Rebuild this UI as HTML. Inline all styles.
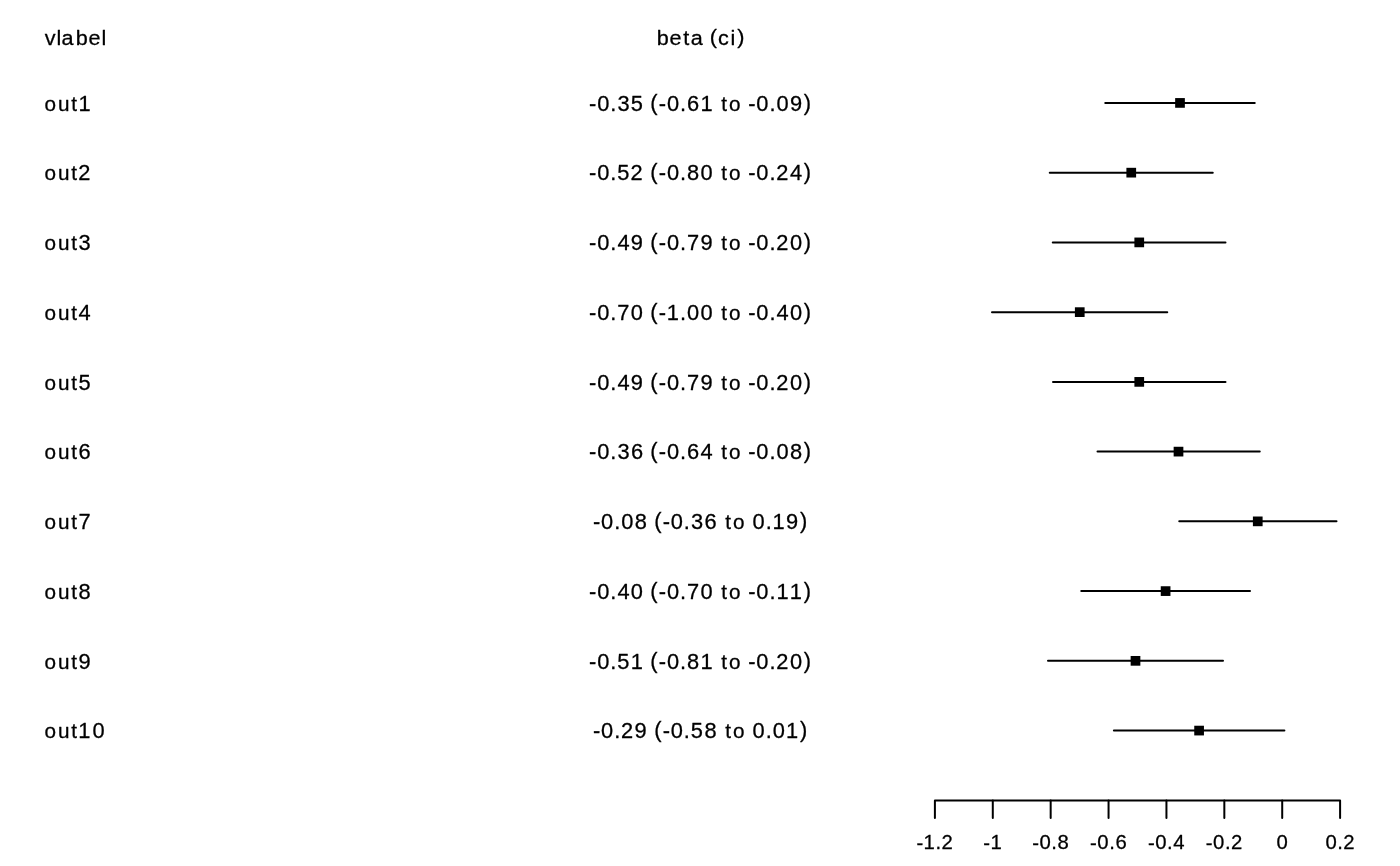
<!DOCTYPE html>
<html lang="en">
<head>
<meta charset="utf-8">
<title>Forest plot</title>
<style>
html,body{margin:0;padding:0;background:#fff;}
body{width:1400px;height:866px;overflow:hidden;}
svg{display:block;will-change:transform;filter:grayscale(1);}
text{font-family:"Liberation Sans",sans-serif;fill:#000;stroke:#000;stroke-width:0.28px;stroke-linejoin:round;}
.m{font-size:21.30px;}
.t{font-size:19.80px;}
.l{font-size:20.20px;}
.ci{stroke:#000;stroke-width:2;stroke-linecap:round;fill:none;}
.ax{stroke:#000;stroke-width:2;stroke-linecap:round;stroke-linejoin:round;fill:none;}
</style>
</head>
<body>
<svg width="1400" height="866" viewBox="0 0 1400 866">
<rect x="0" y="0" width="1400" height="866" fill="#ffffff"/>
<g id="header">
<text class="m" style="font-size:21.1px" transform="scale(1.025,1)" x="43.75 55.16 59.98 73.99 86.40 99.07" y="45">vlabel</text>
<text class="m" style="font-size:21.1px" transform="scale(1.025,1)" x="640.70 653.17 666.54 674.01 686.32 692.54 700.56 712.70 719.25" y="45 45 45 45 45 44 45 45 44">beta (ci)</text>
</g>
<g id="row1">
<text class="m" transform="scale(1.025,1)" x="43.49 56.48 69.60 76.48" y="111"><tspan class="l">out</tspan>1</text>
<text class="m" transform="scale(1.025,1)" x="574.77 582.68 595.48 602.39 615.41 627.99 634.49 642.77 650.68 663.48 670.37 683.39 695.98 703.73 711.33 723.26 729.99 737.90 750.70 757.59 770.65 784.22" y="111 111 111 111 111 111 110 111 111 111 111 111 111 111 111 111 111 111 111 111 111 110">-0.35 (-0.61 <tspan class="l">to</tspan> -0.09)</text>
<line class="ci" x1="1105.25" y1="102.92" x2="1254.75" y2="102.92"/>
<rect x="1175.15" y="98.07" width="9.7" height="9.7" fill="#000"/>
</g>
<g id="row2">
<text class="m" transform="scale(1.025,1)" x="43.49 56.48 69.60 76.32" y="180"><tspan class="l">out</tspan>2</text>
<text class="m" transform="scale(1.025,1)" x="574.77 582.68 595.48 602.29 615.22 627.99 634.49 642.77 650.68 663.48 670.36 683.49 695.98 703.73 711.33 723.26 729.99 737.90 750.70 757.31 770.71 784.22" y="180 180 180 180 180 180 179 180 180 180 180 180 180 180 180 180 180 180 180 180 180 179">-0.52 (-0.80 <tspan class="l">to</tspan> -0.24)</text>
<line class="ci" x1="1049.75" y1="172.66" x2="1212.75" y2="172.66"/>
<rect x="1126.40" y="167.81" width="9.7" height="9.7" fill="#000"/>
</g>
<g id="row3">
<text class="m" transform="scale(1.025,1)" x="43.49 56.48 69.60 76.61" y="250"><tspan class="l">out</tspan>3</text>
<text class="m" transform="scale(1.025,1)" x="574.77 582.68 595.48 602.36 615.43 627.99 634.49 642.77 650.68 663.48 670.32 683.43 695.98 703.73 711.33 723.26 729.99 737.90 750.70 757.31 770.71 784.22" y="250 250 250 250 250 250 249 250 250 250 250 250 250 250 250 250 250 250 250 250 250 249">-0.49 (-0.79 <tspan class="l">to</tspan> -0.20)</text>
<line class="ci" x1="1052.75" y1="242.40" x2="1225.50" y2="242.40"/>
<rect x="1134.40" y="237.55" width="9.7" height="9.7" fill="#000"/>
</g>
<g id="row4">
<text class="m" transform="scale(1.025,1)" x="43.49 56.48 69.60 76.58" y="320"><tspan class="l">out</tspan>4</text>
<text class="m" transform="scale(1.025,1)" x="574.77 582.68 595.48 602.33 615.49 627.99 634.49 642.77 650.57 663.48 670.36 683.49 695.98 703.73 711.33 723.26 729.99 737.90 750.70 757.58 770.71 784.22" y="320 320 320 320 320 320 319 320 320 320 320 320 320 320 320 320 320 320 320 320 320 319">-0.70 (-1.00 <tspan class="l">to</tspan> -0.40)</text>
<line class="ci" x1="992.00" y1="312.14" x2="1167.25" y2="312.14"/>
<rect x="1074.90" y="307.29" width="9.7" height="9.7" fill="#000"/>
</g>
<g id="row5">
<text class="m" transform="scale(1.025,1)" x="43.49 56.48 69.60 76.51" y="390"><tspan class="l">out</tspan>5</text>
<text class="m" transform="scale(1.025,1)" x="574.77 582.68 595.48 602.36 615.43 627.99 634.49 642.77 650.68 663.48 670.32 683.43 695.98 703.73 711.33 723.26 729.99 737.90 750.70 757.31 770.71 784.22" y="390 390 390 390 390 390 389 390 390 390 390 390 390 390 390 390 390 390 390 390 390 389">-0.49 (-0.79 <tspan class="l">to</tspan> -0.20)</text>
<line class="ci" x1="1053.00" y1="381.88" x2="1225.50" y2="381.88"/>
<rect x="1134.40" y="377.03" width="9.7" height="9.7" fill="#000"/>
</g>
<g id="row6">
<text class="m" transform="scale(1.025,1)" x="43.49 56.48 69.60 76.59" y="459"><tspan class="l">out</tspan>6</text>
<text class="m" transform="scale(1.025,1)" x="574.77 582.68 595.48 602.39 615.50 627.99 634.49 642.77 650.68 663.48 670.37 683.49 695.98 703.73 711.33 723.26 729.99 737.90 750.70 757.59 770.71 784.22" y="459 459 459 459 459 459 458 459 459 459 459 459 459 459 459 459 459 459 459 459 459 458">-0.36 (-0.64 <tspan class="l">to</tspan> -0.08)</text>
<line class="ci" x1="1097.50" y1="451.62" x2="1259.75" y2="451.62"/>
<rect x="1173.65" y="446.77" width="9.7" height="9.7" fill="#000"/>
</g>
<g id="row7">
<text class="m" transform="scale(1.025,1)" x="43.49 56.48 69.60 76.55" y="529"><tspan class="l">out</tspan>7</text>
<text class="m" transform="scale(1.025,1)" x="578.50 586.40 599.20 606.09 619.22 631.71 638.21 646.49 654.40 667.20 674.11 687.22 699.71 707.46 715.06 726.98 734.18 746.98 753.76 766.93 780.50" y="529 529 529 529 529 529 528 529 529 529 529 529 529 529 529 529 529 529 529 529 528">-0.08 (-0.36 <tspan class="l">to</tspan> 0.19)</text>
<line class="ci" x1="1179.25" y1="521.36" x2="1336.50" y2="521.36"/>
<rect x="1252.90" y="516.51" width="9.7" height="9.7" fill="#000"/>
</g>
<g id="row8">
<text class="m" transform="scale(1.025,1)" x="43.49 56.48 69.60 76.59" y="599"><tspan class="l">out</tspan>8</text>
<text class="m" transform="scale(1.025,1)" x="574.77 582.68 595.48 602.36 615.49 627.99 634.49 642.77 650.68 663.48 670.32 683.49 695.98 703.73 711.33 723.26 729.99 737.90 750.70 757.48 770.61 784.22" y="599 599 599 599 599 599 598 599 599 599 599 599 599 599 599 599 599 599 599 599 599 598">-0.40 (-0.70 <tspan class="l">to</tspan> -0.11)</text>
<line class="ci" x1="1081.25" y1="591.10" x2="1250.00" y2="591.10"/>
<rect x="1160.75" y="586.25" width="9.7" height="9.7" fill="#000"/>
</g>
<g id="row9">
<text class="m" transform="scale(1.025,1)" x="43.49 56.48 69.60 76.52" y="669"><tspan class="l">out</tspan>9</text>
<text class="m" transform="scale(1.025,1)" x="574.77 582.68 595.48 602.29 615.39 627.99 634.49 642.77 650.68 663.48 670.36 683.39 695.98 703.73 711.33 723.26 729.99 737.90 750.70 757.31 770.71 784.22" y="669 669 669 669 669 669 668 669 669 669 669 669 669 669 669 669 669 669 669 669 669 668">-0.51 (-0.81 <tspan class="l">to</tspan> -0.20)</text>
<line class="ci" x1="1048.00" y1="660.84" x2="1223.00" y2="660.84"/>
<rect x="1130.65" y="655.99" width="9.7" height="9.7" fill="#000"/>
</g>
<g id="row10">
<text class="m" transform="scale(1.025,1)" x="43.49 56.48 69.60 76.35 90.30" y="738"><tspan class="l">out</tspan>10</text>
<text class="m" transform="scale(1.025,1)" x="578.50 586.40 599.20 605.82 619.15 631.71 638.21 646.49 654.40 667.20 674.01 687.22 699.71 707.46 715.06 726.98 734.18 746.98 753.86 766.89 780.50" y="738 738 738 738 738 738 737 738 738 738 738 738 738 738 738 738 738 738 738 738 737">-0.29 (-0.58 <tspan class="l">to</tspan> 0.01)</text>
<line class="ci" x1="1113.90" y1="730.58" x2="1284.40" y2="730.58"/>
<rect x="1194.25" y="725.73" width="9.7" height="9.7" fill="#000"/>
</g>
<g id="axis">
<path class="ax" d="M934.90 817.90V800.40H1340.10V817.90"/>
<line class="ax" x1="992.79" y1="800.40" x2="992.79" y2="817.90"/>
<line class="ax" x1="1050.67" y1="800.40" x2="1050.67" y2="817.90"/>
<line class="ax" x1="1108.56" y1="800.40" x2="1108.56" y2="817.90"/>
<line class="ax" x1="1166.44" y1="800.40" x2="1166.44" y2="817.90"/>
<line class="ax" x1="1224.33" y1="800.40" x2="1224.33" y2="817.90"/>
<line class="ax" x1="1282.21" y1="800.40" x2="1282.21" y2="817.90"/>
<text class="t" transform="scale(1.025,1)" x="894.06 900.99 912.68 918.53" y="850 849 849 849">-1.2</text>
<text class="t" transform="scale(1.025,1)" x="959.38 966.30" y="850 849">-1</text>
<text class="t" transform="scale(1.025,1)" x="1007.01 1014.04 1025.63 1031.72" y="850 849 849 849">-0.8</text>
<text class="t" transform="scale(1.025,1)" x="1063.48 1070.51 1082.10 1088.20" y="850 849 849 849">-0.6</text>
<text class="t" transform="scale(1.025,1)" x="1119.96 1126.98 1138.58 1144.67" y="850 849 849 849">-0.4</text>
<text class="t" transform="scale(1.025,1)" x="1176.43 1183.46 1195.05 1200.90" y="850 849 849 849">-0.2</text>
<text class="t" transform="scale(1.025,1)" x="1245.43" y="849">0</text>
<text class="t" transform="scale(1.025,1)" x="1293.06 1304.66 1310.50" y="849">0.2</text>
</g>
</svg>
</body>
</html>
